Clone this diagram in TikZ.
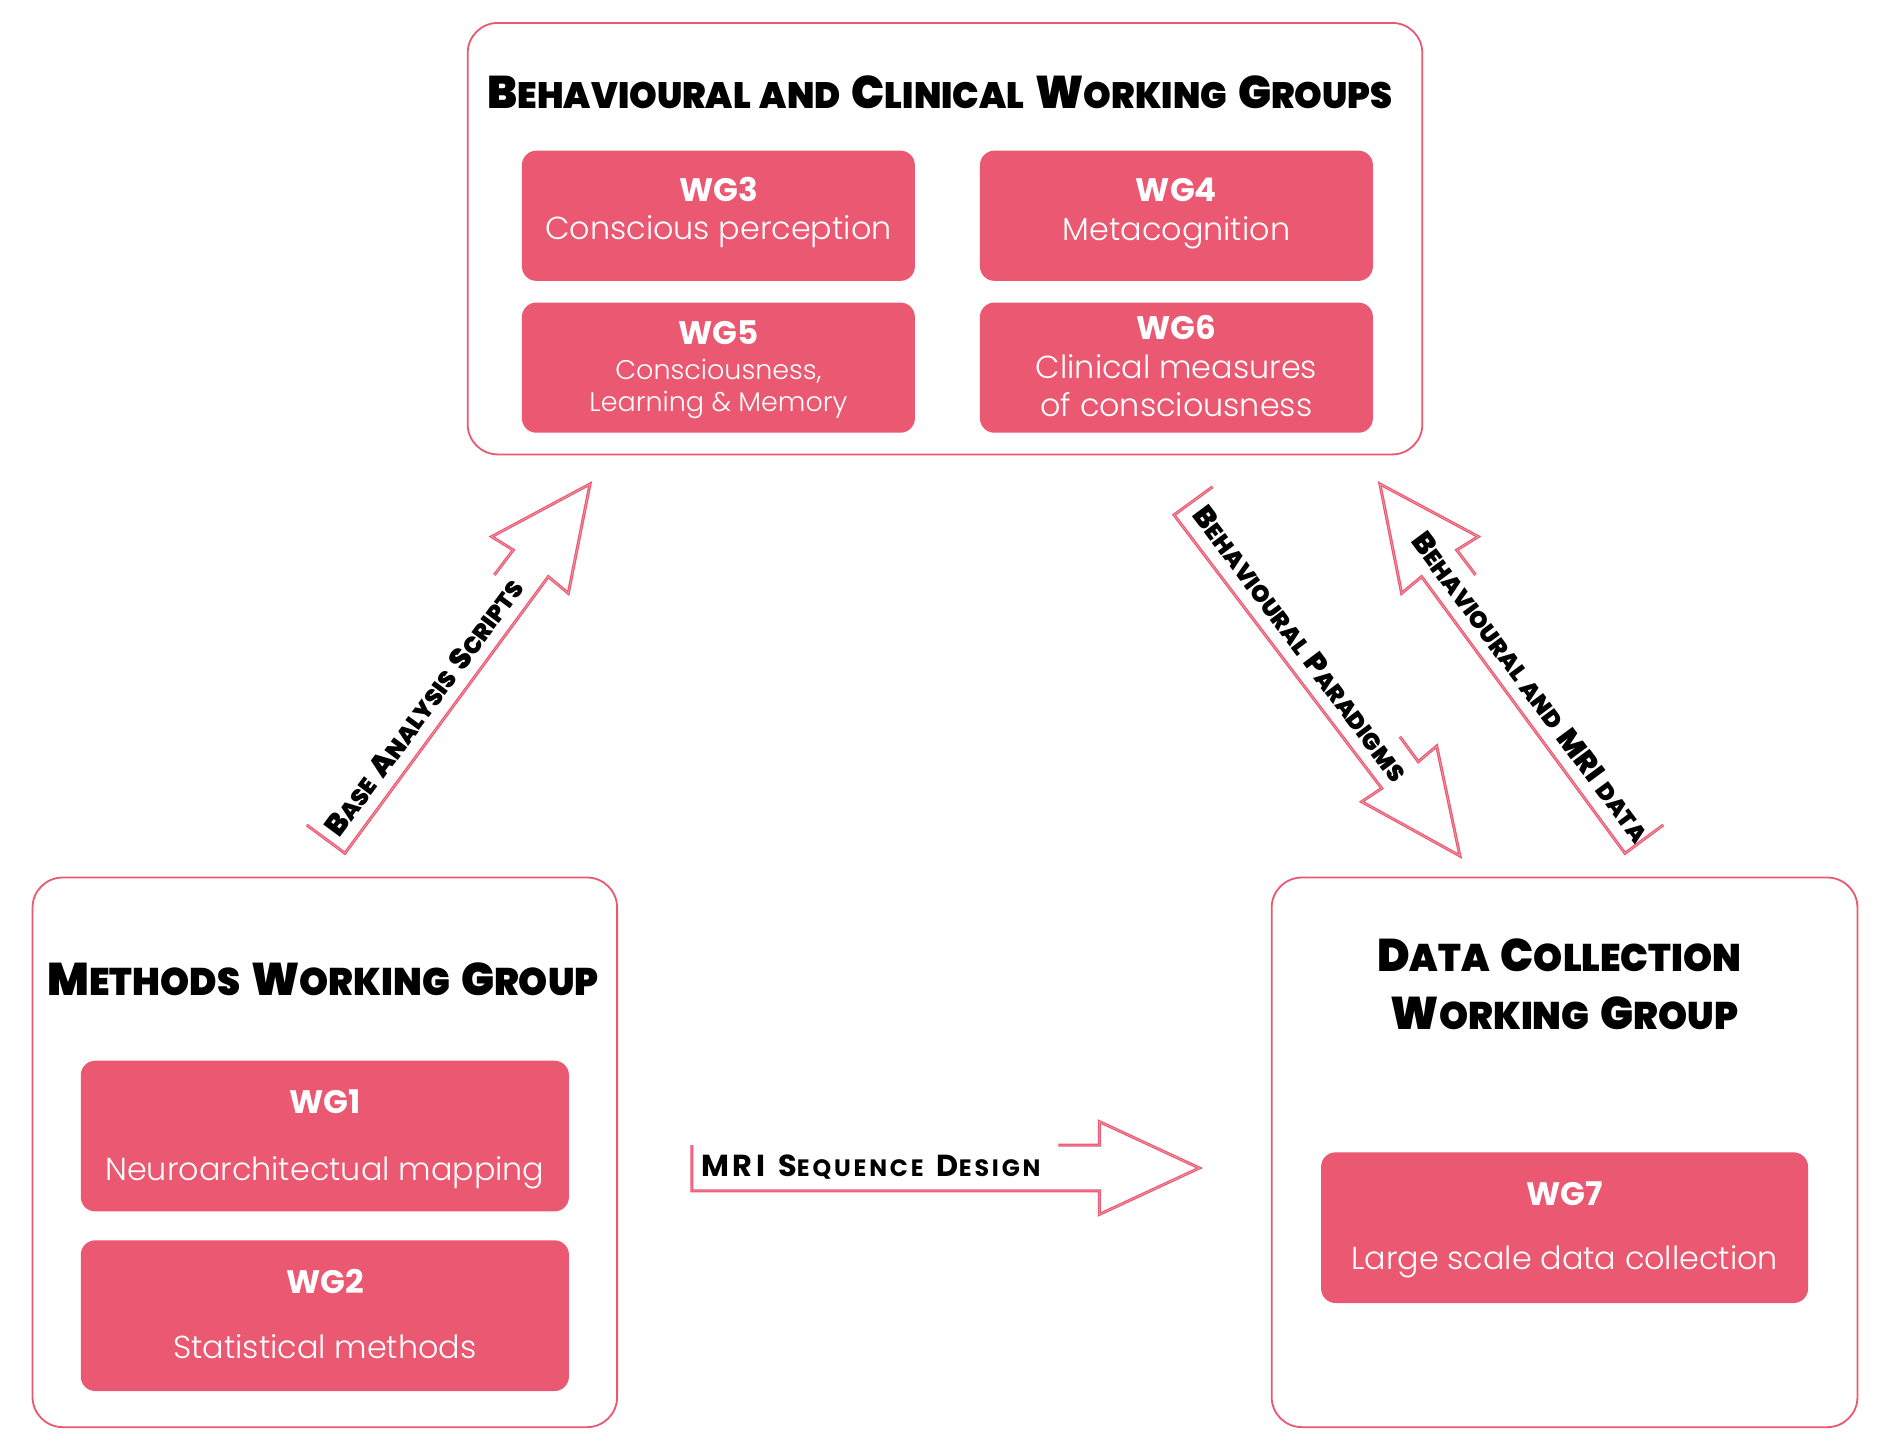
\documentclass[tikz,border=0pt]{standalone}
\usepackage{fontspec}
\setmainfont{Poppins}
\newfontfamily\lightfont{Poppins}[UprightFont=* Light]
\newfontfamily\wgboldfont{Poppins}[UprightFont=* Bold]
\newfontfamily\titlefont{Poppins}[UprightFont=* Black, FakeStretch=0.96, WordSpace=1.5]
\newfontfamily\arrowfont{Poppins}[UprightFont=* Black, WordSpace=1.6]
\newfontfamily\mrifont{Poppins}[UprightFont=* Bold, LetterSpace=12, WordSpace=1.3]
\definecolor{wgred}{RGB}{235,88,113}
\makeatletter
\newcommand\fsc[2][0.8]{{\@tempdima=\f@size pt\relax\@tempdima=#1\@tempdima\fontsize{\@tempdima}{\z@}\selectfont#2}}
\makeatother
\tikzset{
  groupbox/.style={draw=wgred, line width=0.75pt, rounded corners=12.5pt, fill=white},
  wgbox/.style={fill=wgred, draw=none, rounded corners=6pt},
  wglab/.style={text=white, font=\wgboldfont\fontsize{13.5}{16}\selectfont, anchor=base, inner sep=0pt},
  wgdesc/.style={text=white, font=\lightfont\fontsize{13.2}{16}\selectfont, anchor=base, inner sep=0pt},
  wgdescsmall/.style={text=white, font=\lightfont\fontsize{11.2}{14}\selectfont, anchor=base, inner sep=0pt},
  bigtitle/.style={font=\titlefont\fontsize{19}{23}\selectfont, anchor=base, inner sep=0pt},
  arrowline/.style={draw=wgred, line width=0.5pt, double=wgred!55, double distance=0.25pt, line join=miter},
  arrowlab/.style={font=\arrowfont\fontsize{12.2}{14}\selectfont, inner sep=0pt, text depth=0pt},
  mrilab/.style={font=\mrifont\fontsize{12.6}{14}\selectfont, inner sep=0pt, text depth=0pt},
}
\begin{document}
\begin{tikzpicture}[x=0.5pt, y=-0.5pt]
\fill[white] (0,0) rectangle (1568,1194.7);
\useasboundingbox (0,0) rectangle (1568,1194.7);

% ---------- group boxes ----------
\node[groupbox, minimum width=396pt, minimum height=179pt] (behav) at (784,198) {};
\node[groupbox, minimum width=242.5pt, minimum height=228pt] (meth) at (269.5,956) {};
\node[groupbox, minimum width=243pt, minimum height=228pt] (data) at (1298,956) {};

% ---------- titles ----------
\node[bigtitle] (behavtitle) at (780,89.9) {B\fsc{EHAVIOURAL AND} C\fsc{LINICAL} W\fsc{ORKING} G\fsc{ROUPS}};
\node[bigtitle] (methtitle) at (268,826) {M\fsc[0.84]{ETHODS} W\fsc[0.84]{ORKING} G\fsc[0.84]{ROUP}};
\node[bigtitle] (datatitleA) at (1293.5,806) {D\fsc[0.84]{ATA} C\fsc[0.84]{OLLECTION}};
\node[bigtitle] (datatitleB) at (1298,854) {W\fsc[0.84]{ORKING} G\fsc[0.84]{ROUP}};

% ---------- WG boxes ----------
\node[wgbox, minimum width=163pt, minimum height=54pt] (wg3) at (596,179) {};
\node[wgbox, minimum width=163pt, minimum height=54pt] (wg4) at (976,179) {};
\node[wgbox, minimum width=163pt, minimum height=54pt] (wg5) at (596,305) {};
\node[wgbox, minimum width=163pt, minimum height=54pt] (wg6) at (976,305) {};
\node[wgbox, minimum width=202.5pt, minimum height=62.5pt] (wg1) at (269.5,942.5) {};
\node[wgbox, minimum width=202.5pt, minimum height=62.5pt] (wg2) at (269.5,1091.5) {};
\node[wgbox, minimum width=202pt, minimum height=62.5pt] (wg7) at (1298,1018.5) {};

\node[wglab] (wg3l) at (596,167.3) {WG3};
\node[wgdesc] (wg3d) at (596,199) {Conscious perception};
\node[wglab] (wg4l) at (976,167.3) {WG4};
\node[wgdesc] (wg4d) at (976,199.7) {Metacognition};
\node[wglab] (wg5l) at (596,286) {WG5};
\node[wgdescsmall] (wg5d) at (596,315) {Consciousness,};
\node[wgdescsmall] (wg5e) at (596,341.5) {Learning \& Memory};
\node[wglab] (wg6l) at (976,282) {WG6};
\node[wgdesc] (wg6d) at (976,313.9) {Clinical measures};
\node[wgdesc] (wg6e) at (976,345.7) {of consciousness};
\node[wglab] (wg1l) at (269.5,924.1) {WG1};
\node[wgdesc] (wg1d) at (269.5,979) {Neuroarchitectual mapping};
\node[wglab] (wg2l) at (269.5,1072.9) {WG2};
\node[wgdesc] (wg2d) at (269.5,1127.1) {Statistical methods};
\node[wglab] (wg7l) at (1298,999.7) {WG7};
\node[wgdesc] (wg7d) at (1298,1053.6) {Large scale data collection};

% ---------- arrow 1: Base analysis scripts ----------
\coordinate (a1) at (254.4,684.4);
\coordinate (a2) at (286.2,707.9);
\coordinate (a3) at (454.9,478.4);
\coordinate (a4) at (471.5,492.2);
\coordinate (a5) at (489.5,401.5);
\coordinate (a6) at (407.9,445.2);
\coordinate (a7) at (425.8,456.3);
\coordinate (a8) at (410.1,477.0);
\draw[arrowline] (a1) -- (a2) -- (a3) -- (a4) -- (a5) -- (a6) -- (a7) -- (a8);
\node[arrowlab, rotate=53.4] (lab1) at (351.5,587.1) {B\fsc{ASE} A\fsc{NALYSIS} S\fsc{CRIPTS}};

% ---------- arrow 2: MRI sequence design ----------
\coordinate (b1) at (574,950);
\coordinate (b2) at (574,988);
\coordinate (b3) at (912,988);
\coordinate (b4) at (912,1007.5);
\coordinate (b5) at (995,969);
\coordinate (b6) at (912,930.5);
\coordinate (b7) at (912,950);
\coordinate (b8) at (878,950);
\draw[arrowline] (b1) -- (b2) -- (b3) -- (b4) -- (b5) -- (b6) -- (b7) -- (b8);
\node[mrilab] (lab2) at (722.5,967) {MRI S\fsc[0.78]{EQUENCE} D\fsc[0.78]{ESIGN}};

% ---------- arrow 3: Behavioural paradigms ----------
\coordinate (c1) at (1006.1,403.8);
\coordinate (c2) at (974.0,427.2);
\coordinate (c3) at (1146.3,654.0);
\coordinate (c4) at (1129.7,665.1);
\coordinate (c5) at (1211.2,710.1);
\coordinate (c6) at (1191.9,618.9);
\coordinate (c7) at (1176.6,631.9);
\coordinate (c8) at (1161.4,611.2);
\draw[arrowline] (c1) -- (c2) -- (c3) -- (c4) -- (c5) -- (c6) -- (c7) -- (c8);
\node[arrowlab, rotate=-53.1] (lab3) at (1079,533.9) {B\fsc{EHAVIOURAL} P\fsc{ARADIGMS}};

% ---------- arrow 4: Behavioural and MRI data ----------
\coordinate (d1) at (1379.9,684.4);
\coordinate (d2) at (1348.1,707.9);
\coordinate (d3) at (1179.4,478.4);
\coordinate (d4) at (1162.8,492.2);
\coordinate (d5) at (1144.8,401.5);
\coordinate (d6) at (1226.4,445.2);
\coordinate (d7) at (1208.5,456.3);
\coordinate (d8) at (1224.2,477.0);
\draw[arrowline] (d1) -- (d2) -- (d3) -- (d4) -- (d5) -- (d6) -- (d7) -- (d8);
\node[arrowlab, rotate=-53.4] (lab4) at (1270.3,570.2) {B\fsc{EHAVIOURAL AND} MRI \fsc{DATA}};
\end{tikzpicture}
\end{document}
